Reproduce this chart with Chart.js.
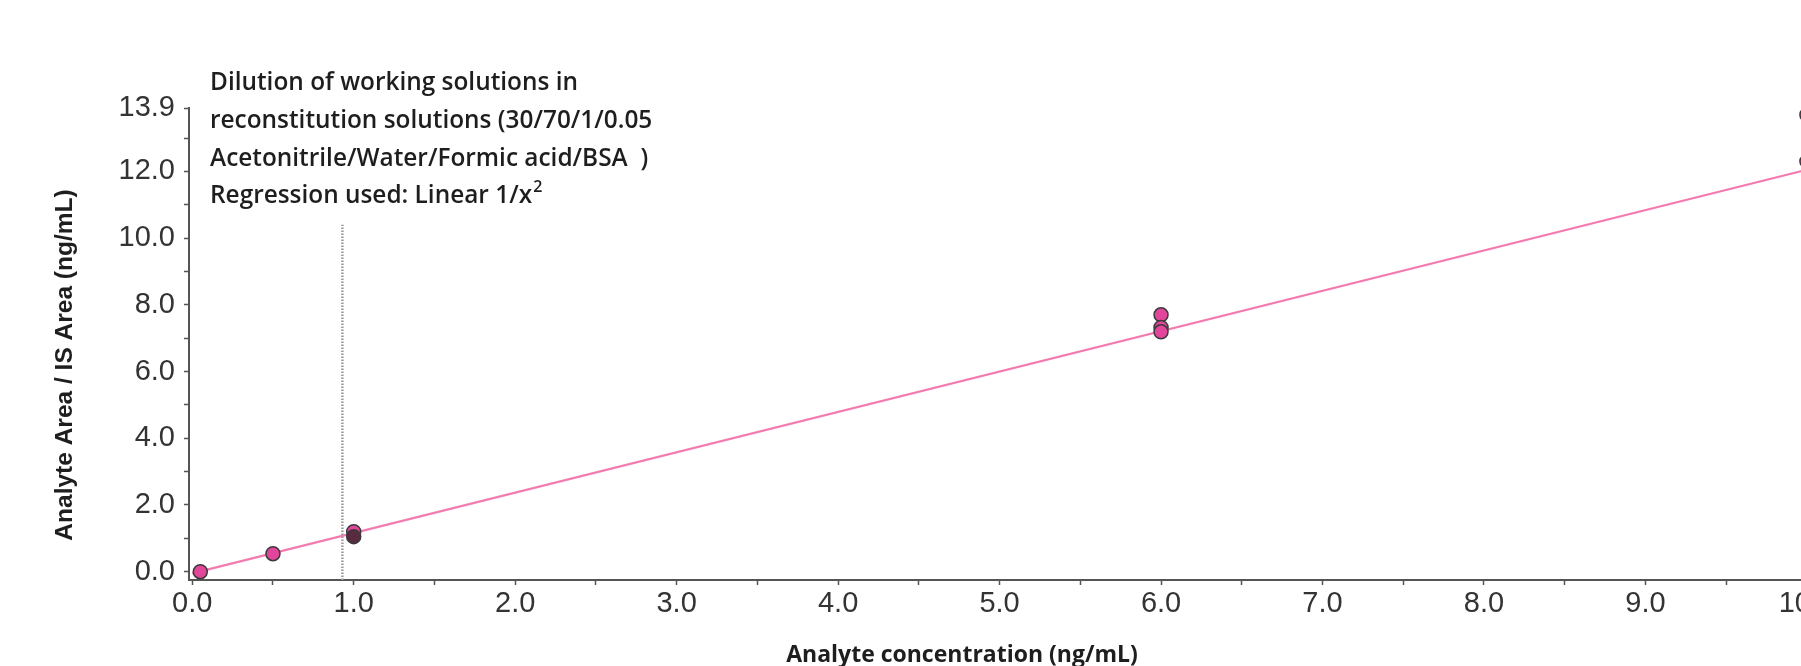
<!DOCTYPE html>
<html>
<head>
<meta charset="utf-8">
<title>Calibration curve</title>
<script src="https://cdn.jsdelivr.net/npm/chart.js@4/dist/chart.umd.min.js"></script>
<style>
  html, body { margin: 0; padding: 0; background: #fff; overflow: hidden; }
  #wrap { width: 1801px; height: 666px; overflow: hidden; }
</style>
</head>
<body>
<div id="wrap"><canvas id="calCurve" width="1880" height="666"></canvas></div>
<script>
// calibration standards
const concentration = [0.05, 0.5, 1.0, 1.0, 6.0, 6.0, 6.0, 10.0, 10.0];
const areaRatio = [0.0, 0.54, 1.2, 1.05, 7.7, 7.32, 7.19, 13.7, 12.3];

// regression line ends (Linear 1/x2)
const fitX = [0, 10];
const fitY = [-0.05, 12.05];

// dotted vertical marker
const markX = [0.93, 0.93];
const markY = [-0.25, 10.4];

const xTicks = [0, 0.5, 1, 1.5, 2, 2.5, 3, 3.5, 4, 4.5, 5, 5.5, 6, 6.5, 7, 7.5, 8, 8.5, 9, 9.5, 10];
const xLabels = ['0.0', '', '1.0', '', '2.0', '', '3.0', '', '4.0', '', '5.0', '', '6.0', '', '7.0', '', '8.0', '', '9.0', '', '10.0'];
const yTicks = [0, 1, 2, 3, 4, 5, 6, 7, 8, 9, 10, 11, 12, 13, 13.9];
const yLabels = ['0.0', '', '2.0', '', '4.0', '', '6.0', '', '8.0', '', '10.0', '', '12.0', '', '13.9'];

const noteLines = [
    'Dilution of working solutions in',
    'reconstitution solutions (30/70/1/0.05',
    'Acetonitrile/Water/Formic acid/BSA  )',
    'Regression used: Linear 1/x'
];
const xTitle = 'Analyte concentration (ng/mL)';
const yTitle = 'Analyte Area / IS Area (ng/mL)';

const ctxEl = document.getElementById('calCurve');

const pointFill = concentration.map((c, i) => i === 3 ? '#5a2a40' : '#e2469b');

const textPlugin = {
    id: 'texts',
    afterDraw(chart) {
        const ctx = chart.ctx;
        ctx.save();
        ctx.fillStyle = '#1e1e1e';
        ctx.textBaseline = 'middle';
        ctx.textAlign = 'left';
        ctx.font = '600 24.4px "Open Sans"';
        noteLines.forEach((t, i) => ctx.fillText(t, 210, 83 + i * 37.8));
        // superscript 2
        const w = ctx.measureText(noteLines[3]).width;
        ctx.font = '600 16px "Open Sans"';
        ctx.fillText('2', 210 + w + 1, 83 + 3 * 37.8 - 9);

        ctx.textAlign = 'center';
        ctx.font = 'bold 23px "Open Sans"';
        ctx.fillText(xTitle, 962, 655);

        ctx.translate(65, 365);
        ctx.rotate(-Math.PI / 2);
        ctx.font = 'bold 24.5px "Liberation Sans"';
        ctx.fillText(yTitle, 0, 0);
        ctx.restore();
    }
};

new Chart(ctxEl, {
    type: 'scatter',
    data: {
        datasets: [
            {
                label: 'Standards',
                data: concentration.map((x, i) => ({ x: x, y: areaRatio[i] })),
                pointRadius: 7,
                pointBackgroundColor: pointFill,
                pointBorderColor: '#3a3a3a',
                pointBorderWidth: 1.5,
                order: 0
            },
            {
                label: 'Fit',
                data: fitX.map((x, i) => ({ x: x, y: fitY[i] })),
                showLine: true,
                pointRadius: 0,
                borderColor: '#f27bb0',
                borderWidth: 2.2,
                order: 1
            },
            {
                label: 'Marker',
                data: markX.map((x, i) => ({ x: x, y: markY[i] })),
                showLine: true,
                pointRadius: 0,
                borderColor: '#9a9a9a',
                borderWidth: 2.5,
                borderDash: [1.5, 1.5],
                order: 2
            }
        ]
    },
    options: {
        responsive: false,
        animation: false,
        layout: { padding: { top: 108, right: 2, left: 0, bottom: 0 } },
        plugins: {
            legend: { display: false },
            tooltip: { enabled: false }
        },
        scales: {
            x: {
                type: 'linear',
                min: -0.02,
                max: 10.4,
                afterFit: (s) => { s.height = 86; },
                afterBuildTicks: (s) => { s.ticks = xTicks.map(v => ({ value: v })); },
                border: { color: '#555', width: 2 },
                grid: { drawOnChartArea: false, drawTicks: true, tickLength: 5, tickColor: '#555', tickWidth: 1.5 },
                ticks: {
                    autoSkip: false,
                    maxRotation: 0,
                    padding: 2,
                    color: '#333',
                    font: { family: 'Liberation Sans', size: 29 },
                    callback: (v, i) => xLabels[i]
                }
            },
            y: {
                type: 'linear',
                min: -0.25,
                max: 13.9,
                afterFit: (s) => { s.width = 189; },
                afterBuildTicks: (s) => { s.ticks = yTicks.map(v => ({ value: v })); },
                border: { color: '#555', width: 2 },
                grid: { drawOnChartArea: false, drawTicks: true, tickLength: 5, tickColor: '#555', tickWidth: 1.5 },
                ticks: {
                    autoSkip: false,
                    padding: 9,
                    color: '#333',
                    font: { family: 'Liberation Sans', size: 29 },
                    callback: (v, i) => yLabels[i]
                }
            }
        }
    },
    plugins: [textPlugin]
});
</script>
</body>
</html>
